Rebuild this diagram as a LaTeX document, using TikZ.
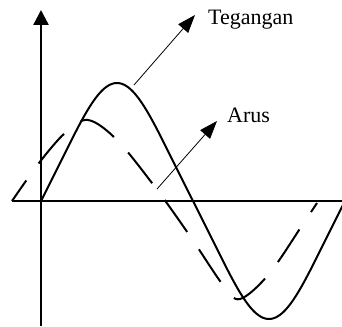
\documentclass[tikz,border=0pt]{standalone}
\usepackage{fontspec}
\setmainfont{Liberation Serif}
\usetikzlibrary{arrows.meta}
\tikzset{axis/.style={line width=2.4pt},
  wave/.style={line width=2pt},
  pointer/.style={line width=.8pt,-{Triangle[length=18pt,width=13pt]}},
  lbl/.style={anchor=base west,inner sep=0pt,font=\fontsize{22}{26}\selectfont}}

\begin{document}
\begin{tikzpicture}[x=1pt,y=1pt]
\useasboundingbox (-41,-125) rectangle (301,201);
\coordinate (O) at (0,0);
\coordinate (ybot) at (0,-125);
\coordinate (ytop) at (0,191);
\coordinate (xl) at (-29,0);
\coordinate (xr) at (303,0);
\draw[axis,-{Triangle[length=15pt,width=15pt]}] (ybot)--(ytop);
\draw[axis] (xl)--(xr);
% tegangan
\draw[wave] plot[domain=0:303,samples=150] (\x,{118*(sin(\x*1.18421)-.05*sin(3*\x*1.18421))/1.05});
% arus
\draw[wave,dash pattern=on 39pt off 21pt,dash phase=14pt] plot[smooth,tension=.55] coordinates
  {(-29,0) (-2,38) (24,68) (47,81) (76,61) (114,14) (149,-35) (182,-84) (199,-98) (228,-73) (262,-23) (276,-2)};
\node[lbl] (teg) at (167,176) {Tegangan};
\node[lbl] (arus) at (186,78) {Arus};
\coordinate (tegfrom) at (93,116);
\coordinate (tegto) at (154,186);
\coordinate (arusfrom) at (116,12);
\coordinate (arusto) at (176,80);
\draw[pointer] (tegfrom)--(tegto);
\draw[pointer] (arusfrom)--(arusto);
\end{tikzpicture}
\end{document}
